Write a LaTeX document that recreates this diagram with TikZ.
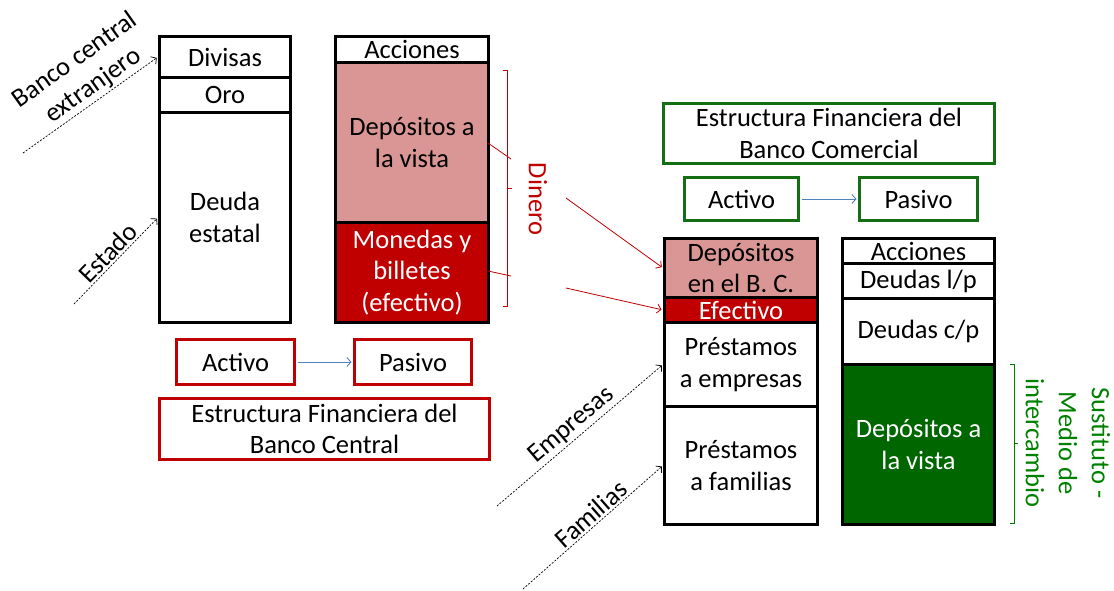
\documentclass[tikz,border=0pt]{standalone}
\usepackage{fontspec}
\setmainfont{Carlito}
\usetikzlibrary{arrows.meta}
\definecolor{dred}{RGB}{192,0,0}
\definecolor{pinkc}{RGB}{217,150,148}
\definecolor{dgreen}{RGB}{0,102,0}
\definecolor{bgreen}{RGB}{20,110,20}
\definecolor{tgreen}{RGB}{0,128,0}
\definecolor{blueln}{RGB}{79,129,189}
\begin{document}
\begin{tikzpicture}[x=1pt,y=-1pt,
  txt/.style={font=\fontsize{26.5}{31.5}\selectfont, align=center},
  cell/.style={txt, draw=black, line width=3pt, inner sep=0pt, anchor=north west},
  rbox/.style={txt, draw=dred, line width=3pt, inner sep=0pt, anchor=north west},
  gbox/.style={txt, draw=bgreen, line width=3pt, inner sep=0pt, anchor=north west},
  dasharr/.style={dash pattern=on 2pt off 1.5pt, line width=0.7pt, -{Straight Barb[length=4pt,width=9pt]}, shorten >=1.5pt},
  redarr/.style={draw=dred, line width=0.8pt, -{Straight Barb[length=4pt,width=9pt]}, shorten >=1.5pt},
  bluearr/.style={draw=blueln, line width=0.9pt, -{Straight Barb[length=4pt,width=9pt]}, shorten >=1.5pt, shorten <=1.5pt},
  slab/.style={txt, above, sloped, inner sep=2pt}
]
\useasboundingbox (0,0) rectangle (1114,590);

% Central bank, assets
\node[cell, minimum width=131pt, minimum height=41pt] (div) at (158,35) {Divisas};
\node[cell, minimum width=131pt, minimum height=35pt] (oro) at (158,76) {Oro};
\node[cell, minimum width=131pt, minimum height=210pt] (deu) at (158,111) {Deuda\\estatal};
% Central bank, liabilities
\node[cell, minimum width=153pt, minimum height=26pt] (acc1) at (334,35) {Acciones};
\node[cell, fill=pinkc, minimum width=153pt, minimum height=160pt] (dep1) at (334,61) {Depósitos a\\la vista};
\node[cell, fill=dred, text=white, minimum width=153pt, minimum height=100pt] (mon) at (334,221) {Monedas y\\billetes\\(efectivo)};

% Commercial bank, assets
\node[cell, fill=pinkc, minimum width=153pt, minimum height=59pt] (dbc) at (663,237) {Depósitos\\en el B. C.};
\node[cell, fill=dred, text=white, minimum width=153pt, minimum height=25pt] (efe) at (663,296) {Efectivo};
\node[cell, minimum width=153pt, minimum height=84pt] (emp) at (663,321) {Préstamos\\a empresas};
\node[cell, minimum width=153pt, minimum height=118pt] (fam) at (663,405) {Préstamos\\a familias};
% Commercial bank, liabilities
\node[cell, minimum width=152pt, minimum height=25pt] (acc2) at (841,237) {Acciones};
\node[cell, minimum width=152pt, minimum height=35pt] (dlp) at (841,262) {Deudas l/p};
\node[cell, minimum width=152pt, minimum height=66pt] (dcp) at (841,297) {Deudas c/p};
\node[cell, fill=dgreen, text=white, minimum width=152pt, minimum height=160pt] (dvg) at (841,363) {Depósitos a\\la vista};

% Titles and legends
\node[gbox, minimum width=331pt, minimum height=60pt] (tcom) at (662,102) {Estructura Financiera del\\Banco Comercial};
\node[gbox, minimum width=114pt, minimum height=43pt] (actr) at (683,176) {Activo};
\node[gbox, minimum width=118pt, minimum height=43pt] (pasr) at (858,176) {Pasivo};
\node[rbox, minimum width=118pt, minimum height=45pt] (actl) at (175,338) {Activo};
\node[rbox, minimum width=117pt, minimum height=45pt] (pasl) at (353,338) {Pasivo};
\node[rbox, minimum width=330pt, minimum height=61pt] (tcen) at (158,397) {Estructura Financiera del\\Banco Central};

\draw[bluearr] (actr.east) -- (pasr.west);
\draw[bluearr] (actl.east) -- (pasl.west);

% Dinero brace
\draw[dred, line width=0.9pt] (503,70) -- (507,70) -- (507,306) -- (503,306);
\draw[dred, line width=0.9pt] (507,188) -- (512,188);
\node[txt, text=dred, rotate=-90] (din) at (538,199) {Dinero};
\coordinate (r1a) at (488,143); \coordinate (r1b) at (511,159);
\coordinate (r2a) at (488,271); \coordinate (r2b) at (511,276);
\draw[dred, line width=0.8pt] (r1a) -- (r1b);
\draw[dred, line width=0.8pt] (r2a) -- (r2b);
\coordinate (r3) at (566,198);
\coordinate (r4) at (566,288);
\draw[redarr] (r3) -- (dbc.west);
\draw[redarr] (r4) -- (efe.west);

% Green brace
\draw[tgreen, line width=0.9pt] (1010,364) -- (1014,364) -- (1014,523) -- (1010,523);
\draw[tgreen, line width=0.9pt] (1014,443) -- (1018,443);
\node[txt, text=tgreen, rotate=-90, font=\fontsize{26.5}{33}\selectfont] (sus) at (1068,443) {Sustituto -\\Medio de\\intercambio};

% Dashed inflows
\coordinate (bce) at (23,153);
\coordinate (est) at (74,304);
\coordinate (emps) at (497,506);
\coordinate (fams) at (523,589);
\draw[dasharr] (bce) -- node[slab, pos=0.58] (lbce) {Banco central\\extranjero} (div.west);
\draw[dasharr] (est) -- node[slab] (lest) {Estado} (deu.west);
\draw[dasharr] (emps) -- node[slab] (lemp) {Empresas} (emp.west);
\draw[dasharr] (fams) -- node[slab, pos=0.54] (lfam) {Familias} (fam.west);
\end{tikzpicture}
\end{document}
